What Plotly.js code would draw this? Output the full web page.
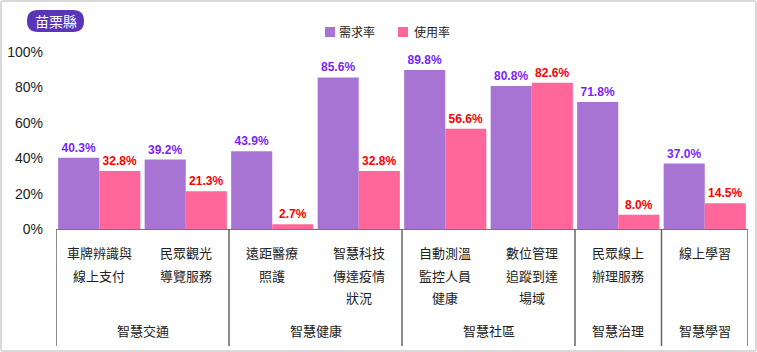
<!DOCTYPE html>
<html>
<head>
<meta charset="utf-8">
<script src="https://cdn.plot.ly/plotly-3.0.1.min.js"></script>
<style>
html,body{margin:0;padding:0;background:#fff;}
#wrap{position:relative;width:757px;height:352px;}
#chart{width:757px;height:352px;}
#frame{position:absolute;left:0;top:0;width:757px;height:352px;box-sizing:border-box;border:2px solid #d9d9d9;border-radius:3px;pointer-events:none;}
</style>
</head>
<body>
<div id="wrap"><div id="chart"></div><div id="frame"></div></div>
<script>
// ---- data ----
const categories = ['車牌辨識與線上支付','民眾觀光導覽服務','遠距醫療照護','智慧科技傳達疫情狀況','自動測溫監控人員健康','數位管理追蹤到達場域','民眾線上辦理服務','線上學習'];
const categoryLines = [
  ['車牌辨識與','線上支付'],
  ['民眾觀光','導覽服務'],
  ['遠距醫療','照護'],
  ['智慧科技','傳達疫情','狀況'],
  ['自動測溫','監控人員','健康'],
  ['數位管理','追蹤到達','場域'],
  ['民眾線上','辦理服務'],
  ['線上學習']
];
const groups = ['智慧交通','智慧健康','智慧社區','智慧治理','智慧學習'];
const groupFirst = [0,2,4,6,7];
const groupLast  = [1,3,5,6,7];
const demand = [40.3,39.2,43.9,85.6,89.8,80.8,71.8,37.0];
const usage  = [32.8,21.3,2.7,32.8,56.6,82.6,8.0,14.5];
const seriesNames = ['需求率','使用率'];
const seriesColors = ['#a874d4','#ff6699'];
const labelColors = ['#7a1fff','#ff0000'];
const yTicks = [0,20,40,60,80,100];
const yTickText = yTicks.map(v => v + '%');
const badgeText = '苗栗縣';

// ---- layout helpers ----
const W = 757, H = 352;
const M = {l:56, r:9, t:52, b:123};
const PW = W - M.l - M.r, PH = H - M.t - M.b;
const px2x = p => (p - M.l) / PW;
const py2y = p => (H - M.b - p) / PH;

const cjk = '"Noto Sans CJK TC", "Noto Sans CJK SC", sans-serif';
const latin = '"Liberation Sans", Arial, sans-serif';

const seriesValues = [demand, usage];
const traces = seriesValues.map((vals, s) => ({
  type:'bar', name:seriesNames[s], x:categories, y:vals,
  marker:{color:seriesColors[s]},
  texttemplate:'%{y:.1f}%', textposition:'outside', cliponaxis:false, constraintext:'none',
  textfont:{family:latin, size:12, color:labelColors[s], weight:'bold'}, hoverinfo:'skip'
}));

const annotations = [];
const shapes = [];
const lineShift = [-23, -46, -68];
categoryLines.forEach((lines, i) => {
  lines.forEach((t, j) => {
    annotations.push({xref:'x', yref:'paper', x:i, y:0, yshift:lineShift[j],
      text:t, showarrow:false, xanchor:'center', yanchor:'middle',
      font:{family:cjk, size:13, color:'#222'}});
  });
});
groups.forEach((g, k) => {
  annotations.push({xref:'x', yref:'paper', x:(groupFirst[k]+groupLast[k])/2, y:0, yshift:-101,
    text:g, showarrow:false, xanchor:'center', yanchor:'middle',
    font:{family:cjk, size:13, color:'#222'}});
});
annotations.push({xref:'paper', yref:'paper', x:px2x(55.5), y:py2y(21), text:badgeText,
  showarrow:false, xanchor:'center', yanchor:'middle', font:{family:cjk, size:14, color:'#ffffff'}});

// legend (custom, matching the reference spacing)
const legendSquareX = [325, 398];
const legendTextX = [337, 412];
seriesNames.forEach((n, s) => {
  shapes.push({type:'rect', xref:'paper', yref:'paper',
    x0:px2x(legendSquareX[s]), x1:px2x(legendSquareX[s]+10), y0:py2y(37), y1:py2y(27),
    fillcolor:seriesColors[s], line:{width:0}});
  annotations.push({xref:'paper', yref:'paper', x:px2x(legendTextX[s]), y:py2y(32), text:n,
    showarrow:false, xanchor:'left', yanchor:'middle', font:{family:cjk, size:12, color:'#222'}});
});

const divPos = [groupFirst[0]-0.5].concat(groupLast.map(v => v + 0.5));
divPos.forEach(v => {
  shapes.push({type:'line', xref:'x', yref:'paper', x0:v, x1:v, y0:0, y1:py2y(346),
    line:{color:'#666', width:1.5}});
});
// pill badge
(function(){
  const x0=27,x1=84,y0=10,y1=32,r=11;
  const P = (x,y) => px2x(x) + ',' + py2y(y);
  const path = 'M' + P(x0+r,y0) + ' L' + P(x1-r,y0) + ' Q' + P(x1,y0) + ' ' + P(x1,y0+r) +
    ' Q' + P(x1,y1) + ' ' + P(x1-r,y1) + ' L' + P(x0+r,y1) + ' Q' + P(x0,y1) + ' ' + P(x0,y1-r) +
    ' Q' + P(x0,y0) + ' ' + P(x0+r,y0) + ' Z';
  shapes.push({type:'path', xref:'paper', yref:'paper', path:path, fillcolor:'#5b35b8', line:{width:0}, layer:'below'});
})();

const layout = {
  width:W, height:H, margin:M,
  paper_bgcolor:'#ffffff', plot_bgcolor:'#ffffff',
  barmode:'group', bargap:0.05, bargroupgap:0,
  showlegend:false,
  xaxis:{type:'category', showticklabels:false, ticks:'', showgrid:false, zeroline:false,
    showline:true, linecolor:'#777', linewidth:1, range:[-0.5, categories.length-0.5]},
  yaxis:{range:[0,100], tickvals:yTicks, ticktext:yTickText, showgrid:false, zeroline:false,
    showline:false, ticks:'', ticklabelstandoff:12, tickfont:{family:latin, size:14, color:'#222'}},
  annotations:annotations, shapes:shapes
};

Plotly.newPlot('chart', traces, layout, {displayModeBar:false, staticPlot:true});
</script>
</body>
</html>
